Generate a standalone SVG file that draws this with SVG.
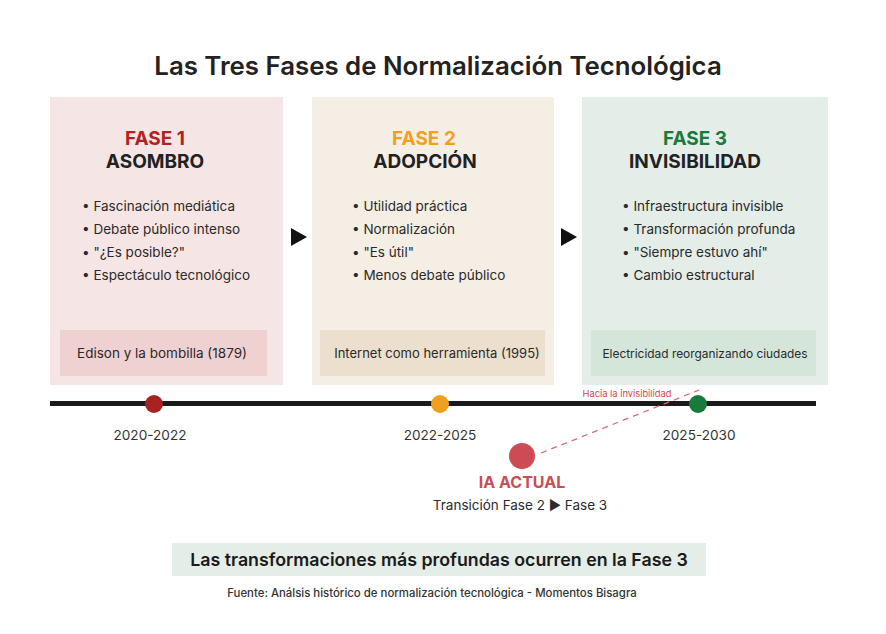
<svg xmlns="http://www.w3.org/2000/svg" width="886" height="634" viewBox="0 0 886 634">
<style>
text{font-family:Inter,"Liberation Sans",Arial,sans-serif;fill:#222}
.title{font-size:25.8px;font-weight:600;text-anchor:middle}
.fase{font-size:19px;font-weight:700;text-anchor:middle}
.name{font-size:19px;font-weight:700;text-anchor:middle;fill:#222}
.bul{font-size:13.5px;fill:#2a2a2a}
.ex{font-size:13.5px;text-anchor:middle;fill:#2a2a2a}
.yr{font-size:13.6px;text-anchor:middle;fill:#333}
.arr{fill:#111}
</style>
<rect width="886" height="634" fill="#fff"/>
<text class="title" x="438" y="75">Las Tres Fases de Normalización Tecnológica</text>

<g id="fase1">
<rect x="50" y="97" width="233" height="288" fill="#f6e5e5"/>
<text class="fase" x="155" y="145" style="fill:#b22222">FASE 1</text>
<text class="name" x="155" y="168">ASOMBRO</text>
<text class="bul" x="82" y="211">• Fascinación mediática</text>
<text class="bul" x="82" y="234">• Debate público intenso</text>
<text class="bul" x="82" y="257">• "¿Es posible?"</text>
<text class="bul" x="82" y="280">• Espectáculo tecnológico</text>
<rect x="60" y="330" width="207" height="46" fill="#f0d1d1"/>
<text class="ex" x="162" y="358">Edison y la bombilla (1879)</text>
</g>

<g id="fase2">
<rect x="312" y="97" width="242" height="288" fill="#f5eee5"/>
<text class="fase" x="424" y="145" style="fill:#f0a020">FASE 2</text>
<text class="name" x="425" y="168">ADOPCIÓN</text>
<text class="bul" x="352" y="211">• Utilidad práctica</text>
<text class="bul" x="352" y="234">• Normalización</text>
<text class="bul" x="352" y="257">• "Es útil"</text>
<text class="bul" x="352" y="280">• Menos debate público</text>
<rect x="320" y="330" width="225" height="46" fill="#ecdfcd"/>
<text class="ex" x="437" y="358" style="font-size:13px">Internet como herramienta (1995)</text>
</g>

<g id="fase3">
<rect x="582" y="97" width="246" height="288" fill="#e4ede7"/>
<text class="fase" x="695" y="145" style="fill:#1a7a3a">FASE 3</text>
<text class="name" x="695" y="168">INVISIBILIDAD</text>
<text class="bul" x="622" y="211">• Infraestructura invisible</text>
<text class="bul" x="622" y="234">• Transformación profunda</text>
<text class="bul" x="622" y="257">• "Siempre estuvo ahí"</text>
<text class="bul" x="622" y="280">• Cambio estructural</text>
<rect x="591" y="330" width="225" height="46" fill="#d4e6da"/>
<text class="ex" x="705" y="358" style="font-size:11.9px">Electricidad reorganizando ciudades</text>
</g>

<g id="connectors">
<polygon class="arr" points="291,228 307,237 291,246"/>
<polygon class="arr" points="561,228 577,237 561,246"/>
<line x1="50" y1="403.5" x2="816" y2="403.5" stroke="#1a1a1a" stroke-width="5"/>
<line x1="541" y1="453" x2="699" y2="390" stroke="#e06a75" stroke-width="1.3" stroke-dasharray="6,5"/>
</g>

<g id="timeline">
<circle cx="154" cy="404" r="9" fill="#a82222"/>
<circle cx="440" cy="404" r="9" fill="#f0a020"/>
<circle cx="698" cy="404" r="9" fill="#1a7a3a"/>
<text class="yr" x="150" y="440">2020-2022</text>
<text class="yr" x="440" y="440">2022-2025</text>
<text class="yr" x="699" y="440">2025-2030</text>
<text x="627" y="397" style="font-size:9.3px;fill:#d04555;text-anchor:middle">Hacia la invisibilidad</text>
</g>

<g id="ia-actual">
<circle cx="522" cy="456" r="13" fill="#cc4b55"/>
<text x="522" y="488" style="font-size:16px;font-weight:700;fill:#cc4b55;text-anchor:middle">IA ACTUAL</text>
<text x="520" y="510" style="font-size:13.5px;fill:#2a2a2a;text-anchor:middle">Transición Fase 2 ▶ Fase 3</text>
</g>

<g id="conclusion">
<rect x="172" y="543" width="534" height="33" fill="#e4ede7"/>
<text x="439" y="566" style="font-size:17.8px;font-weight:600;text-anchor:middle;fill:#1a1a1a">Las transformaciones más profundas ocurren en la Fase 3</text>
<text x="432" y="597" style="font-size:11.4px;font-weight:500;text-anchor:middle;fill:#333">Fuente: Análsis histórico de normalización tecnológica - Momentos Bisagra</text>
</g>
</svg>
